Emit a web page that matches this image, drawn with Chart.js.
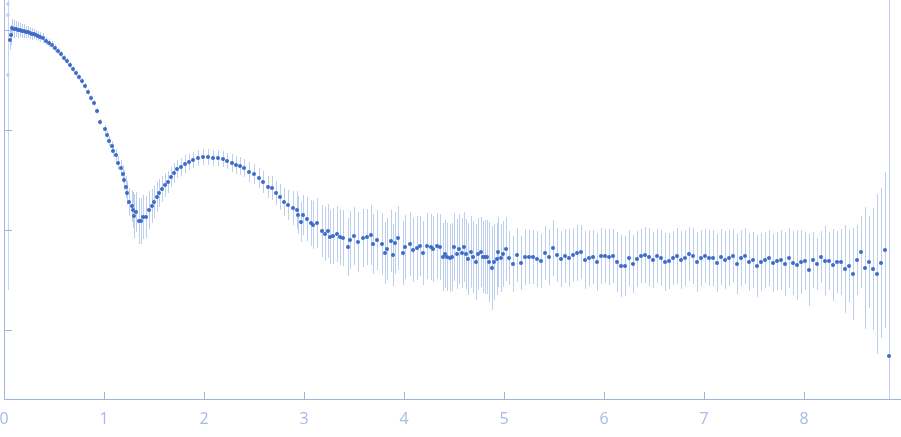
<!DOCTYPE html>
<html>
<head>
<meta charset="utf-8">
<script src="https://cdn.jsdelivr.net/npm/chart.js@4/dist/chart.umd.min.js"></script>
<style>
  html, body { margin: 0; padding: 0; background: #fff; }
  #wrap { width: 901px; height: 437px; }
</style>
</head>
<body>
<div id="wrap"><canvas id="saxsChart" width="901" height="437"></canvas></div>
<script>
// ---- data (q in nm^-1, log10 intensity, log10 error) ----
const qValues = [
  0.06,0.07,0.08,0.10,0.12,0.14,0.16,0.18,0.20,0.22,0.24,0.26,0.28,0.30,0.32,0.34,0.36,0.39,0.42,0.45,
  0.48,0.51,0.54,0.57,0.60,0.63,0.66,0.69,0.72,0.75,0.78,0.81,0.84,0.87,0.90,0.93,
  0.96,1.01,1.03,1.05,1.08,1.09,1.12,1.14,1.17,1.19,1.20,1.22,1.23,1.25,1.28,1.29,1.30,1.32,1.35,1.37,
  1.39,1.42,1.45,1.48,1.50,1.53,1.55,1.58,1.61,1.64,1.67,1.70,1.73,1.77,1.81,1.85,1.89,1.94,1.99,2.04,
  2.09,2.14,2.19,2.23,2.28,2.32,2.36,2.40,2.45,2.50,2.55,2.59,2.64,2.68,2.72,2.76,2.80,
  2.84,2.89,2.93,2.94,2.97,2.99,3.03,3.07,3.09,3.13,3.18,3.21,3.24,3.26,3.29,3.33,3.36,3.39,3.44,3.46,
  3.50,3.54,3.59,3.63,3.67,3.69,3.73,3.78,3.81,3.83,3.87,3.89,3.91,3.94,3.99,4.01,4.06,4.09,4.13,4.16,
  4.19,4.23,4.27,4.29,4.33,4.36,4.39,4.41,4.43,4.46,4.48,4.50,4.53,4.55,4.58,4.60,4.62,4.64,4.67,4.69,
  4.72,4.74,4.77,4.79,4.81,4.83,4.85,4.88,4.90,4.93,4.94,4.97,4.99,5.02,
  5.05,5.09,5.13,5.17,5.21,5.25,5.29,5.33,5.37,5.41,5.45,5.49,5.53,5.57,5.61,5.65,5.69,5.73,5.77,5.81,
  5.85,5.89,5.93,5.97,6.01,6.05,6.09,6.13,6.17,6.21,6.25,6.29,6.33,6.37,6.41,6.45,6.49,6.53,6.57,6.61,
  6.65,6.69,6.73,6.77,6.81,6.85,6.89,6.93,6.97,7.01,7.05,7.09,7.13,7.17,7.21,7.25,7.29,7.33,7.37,7.41,
  7.45,7.49,7.53,7.57,7.61,7.65,7.69,7.73,7.77,7.81,7.85,7.89,7.93,7.97,8.01,8.05,8.09,8.13,8.17,8.21,
  8.25,8.29,8.33,8.37,8.41,8.45,8.49,8.53,8.57,8.61,8.65,8.69,8.73,8.77,8.81,8.85
];
const logIntensity = [
  -0.10,-0.05,0.02,0.01,0.01,0.00,0.00,-0.01,-0.01,-0.02,-0.02,-0.03,-0.04,-0.04,-0.05,-0.06,-0.07,-0.08,-0.11,-0.13,
  -0.15,-0.18,-0.21,-0.24,-0.28,-0.31,-0.35,-0.39,-0.43,-0.47,-0.51,-0.56,-0.62,-0.68,-0.73,-0.81,
  -0.92,-0.99,-1.05,-1.11,-1.16,-1.21,-1.25,-1.33,-1.38,-1.44,-1.50,-1.57,-1.63,-1.72,-1.76,-1.80,-1.86,-1.82,-1.91,-1.91,
  -1.87,-1.87,-1.80,-1.76,-1.72,-1.67,-1.63,-1.59,-1.55,-1.52,-1.47,-1.43,-1.39,-1.37,-1.34,-1.32,-1.30,-1.28,-1.27,-1.27,
  -1.28,-1.28,-1.29,-1.31,-1.33,-1.35,-1.36,-1.38,-1.42,-1.44,-1.48,-1.52,-1.57,-1.58,-1.63,-1.67,-1.72,
  -1.75,-1.78,-1.80,-1.85,-1.92,-1.85,-1.89,-1.93,-1.95,-1.93,-2.01,-2.04,-2.01,-2.07,-2.06,-2.04,-2.07,-2.08,-2.17,-2.10,
  -2.06,-2.12,-2.08,-2.07,-2.05,-2.14,-2.10,-2.14,-2.23,-2.19,-2.11,-2.25,-2.13,-2.08,-2.23,-2.17,-2.14,-2.20,-2.18,-2.16,
  -2.23,-2.16,-2.17,-2.19,-2.16,-2.17,-2.27,-2.24,-2.27,-2.28,-2.27,-2.17,-2.24,-2.19,-2.23,-2.17,-2.24,-2.29,-2.22,-2.27,
  -2.32,-2.24,-2.22,-2.27,-2.27,-2.27,-2.32,-2.38,-2.32,-2.29,-2.22,-2.28,-2.24,-2.19,
  -2.28,-2.34,-2.25,-2.33,-2.27,-2.27,-2.27,-2.29,-2.31,-2.23,-2.27,-2.18,-2.25,-2.29,-2.26,-2.28,-2.25,-2.23,-2.22,-2.30,
  -2.28,-2.27,-2.32,-2.26,-2.26,-2.27,-2.26,-2.32,-2.36,-2.36,-2.28,-2.34,-2.29,-2.26,-2.25,-2.27,-2.30,-2.26,-2.28,-2.32,
  -2.31,-2.28,-2.26,-2.30,-2.28,-2.24,-2.26,-2.32,-2.28,-2.26,-2.28,-2.28,-2.33,-2.27,-2.30,-2.28,-2.26,-2.34,-2.28,-2.26,
  -2.32,-2.30,-2.36,-2.32,-2.30,-2.28,-2.33,-2.31,-2.30,-2.34,-2.28,-2.33,-2.35,-2.32,-2.31,-2.40,-2.30,-2.34,-2.27,-2.31,
  -2.31,-2.35,-2.32,-2.32,-2.39,-2.36,-2.44,-2.30,-2.22,-2.38,-2.32,-2.39,-2.44,-2.33,-2.20,-3.26
];
const logError = [
  0.10,0.10,0.09,0.09,0.08,0.08,0.07,0.07,0.07,0.06,0.06,0.06,0.06,0.05,0.05,0.05,0.05,0.05,0.04,0.04,
  0.04,0.04,0.03,0.03,0.03,0.03,0.03,0.03,0.03,0.03,0.03,0.03,0.03,0.03,0.03,0.03,
  0.03,0.04,0.04,0.05,0.05,0.06,0.06,0.07,0.08,0.09,0.10,0.11,0.12,0.14,0.16,0.18,0.22,0.20,0.23,0.23,
  0.22,0.21,0.19,0.17,0.16,0.15,0.14,0.13,0.12,0.11,0.10,0.10,0.09,0.09,0.09,0.08,0.08,0.08,0.08,0.08,
  0.08,0.08,0.08,0.08,0.09,0.09,0.09,0.09,0.10,0.10,0.10,0.11,0.11,0.12,0.12,0.13,0.14,
  0.15,0.17,0.19,0.19,0.20,0.20,0.22,0.23,0.24,0.25,0.26,0.27,0.27,0.27,0.28,0.28,0.28,0.28,0.29,0.29,
  0.29,0.30,0.29,0.28,0.30,0.30,0.30,0.31,0.31,0.31,0.31,0.31,0.31,0.32,0.32,0.32,0.32,0.32,0.32,0.30,
  0.32,0.33,0.33,0.33,0.33,0.33,0.34,0.34,0.34,0.34,0.34,0.34,0.35,0.35,0.35,0.35,0.35,0.36,0.36,0.36,
  0.38,0.36,0.35,0.36,0.37,0.37,0.40,0.42,0.38,0.36,0.35,0.34,0.33,0.32,
  0.27,0.28,0.27,0.27,0.28,0.27,0.27,0.28,0.27,0.27,0.28,0.28,0.27,0.28,0.27,0.29,0.27,0.28,0.27,0.29,
  0.28,0.27,0.29,0.28,0.27,0.28,0.27,0.30,0.31,0.30,0.28,0.29,0.28,0.27,0.28,0.29,0.28,0.27,0.28,0.29,
  0.28,0.27,0.28,0.29,0.28,0.27,0.28,0.30,0.28,0.27,0.28,0.28,0.29,0.28,0.29,0.28,0.27,0.30,0.28,0.28,
  0.29,0.28,0.31,0.29,0.28,0.28,0.29,0.29,0.30,0.32,0.30,0.32,0.35,0.32,0.29,0.36,0.28,0.26,0.26,0.35,
  0.29,0.36,0.31,0.33,0.44,0.36,0.46,0.35,0.36,0.61,0.46,0.61,0.80,0.75,0.78,3.60
];
// points masked out at the very lowest angles (drawn pale)
const excludedQ = [0.04, 0.04, 0.04];
const excludedLogI = [0.26, 0.15, -0.45];
const excludedErr = [0.10, 0.14, 2.15];

const xTickValues = [0, 1, 2, 3, 4, 5, 6, 7, 8];
const yDecades = [-3, -2, -1, 0];

// ---- colours ----
const AXIS = "#9fb4df";
const LABEL = "#a6bbe5";
const POINT = "#3d6bc7";
const BAR = "#bccfee";
const PALE = "#c6d6f1";

const toPoints = (xs, ys, es) => xs.map((q, i) => ({ x: q, y: ys[i], e: es[i] }));

// vertical error bars, drawn under the markers
const errorBars = {
  id: "errorBars",
  beforeDatasetsDraw(chart) {
    const { ctx, chartArea, scales } = chart;
    ctx.save();
    ctx.beginPath();
    ctx.rect(chartArea.left, chartArea.top, chartArea.width, chartArea.height);
    ctx.clip();
    ctx.lineWidth = 1;
    chart.data.datasets.forEach(ds => {
      ctx.strokeStyle = ds.barColor;
      ds.data.forEach(p => {
        const px = Math.round(scales.x.getPixelForValue(p.x)) + 0.5;
        ctx.beginPath();
        ctx.moveTo(px, scales.y.getPixelForValue(p.y + p.e));
        ctx.lineTo(px, scales.y.getPixelForValue(p.y - p.e));
        ctx.stroke();
      });
    });
    ctx.restore();
  }
};

// small inward tick marks on both axes
const innerTicks = {
  id: "innerTicks",
  afterDraw(chart) {
    const { ctx, chartArea, scales } = chart;
    ctx.save();
    ctx.strokeStyle = AXIS;
    ctx.lineWidth = 1;
    xTickValues.forEach(v => {
      if (v === 0) return;
      const px = Math.round(scales.x.getPixelForValue(v)) + 0.5;
      ctx.beginPath();
      ctx.moveTo(px, chartArea.bottom);
      ctx.lineTo(px, chartArea.bottom - 7);
      ctx.stroke();
    });
    yDecades.forEach(v => {
      const py = Math.round(scales.y.getPixelForValue(v)) + 0.5;
      ctx.beginPath();
      ctx.moveTo(chartArea.left, py);
      ctx.lineTo(chartArea.left + 8, py);
      ctx.stroke();
    });
    ctx.restore();
  }
};

new Chart(document.getElementById("saxsChart"), {
  type: "scatter",
  data: {
    datasets: [
      {
        label: "excluded",
        data: toPoints(excludedQ, excludedLogI, excludedErr),
        backgroundColor: PALE,
        barColor: PALE,
        pointRadius: 2,
        borderWidth: 0
      },
      {
        label: "I(q)",
        data: toPoints(qValues, logIntensity, logError),
        backgroundColor: POINT,
        barColor: BAR,
        pointRadius: 2,
        borderWidth: 0
      }
    ]
  },
  options: {
    responsive: false,
    animation: false,
    layout: { autoPadding: false, padding: { left: 4, right: 0, top: 0, bottom: 0 } },
    plugins: { legend: { display: false }, tooltip: { enabled: false } },
    scales: {
      x: {
        type: "linear",
        min: 0,
        max: 8.97,
        border: { color: AXIS, width: 1 },
        grid: { display: false, drawTicks: false },
        afterBuildTicks: s => { s.ticks = xTickValues.map(v => ({ value: v })); },
        afterFit: s => { s.paddingLeft = 0; s.paddingRight = 0; s.height = 38; },
        ticks: {
          color: LABEL,
          padding: 11,
          maxRotation: 0,
          font: { family: "'Open Sans', sans-serif", size: 16 }
        }
      },
      y: {
        type: "linear",
        min: -3.69,
        max: 0.30,
        border: { color: AXIS, width: 1 },
        grid: { display: false, drawTicks: false },
        ticks: { display: false }
      }
    }
  },
  plugins: [errorBars, innerTicks]
});
</script>
</body>
</html>
